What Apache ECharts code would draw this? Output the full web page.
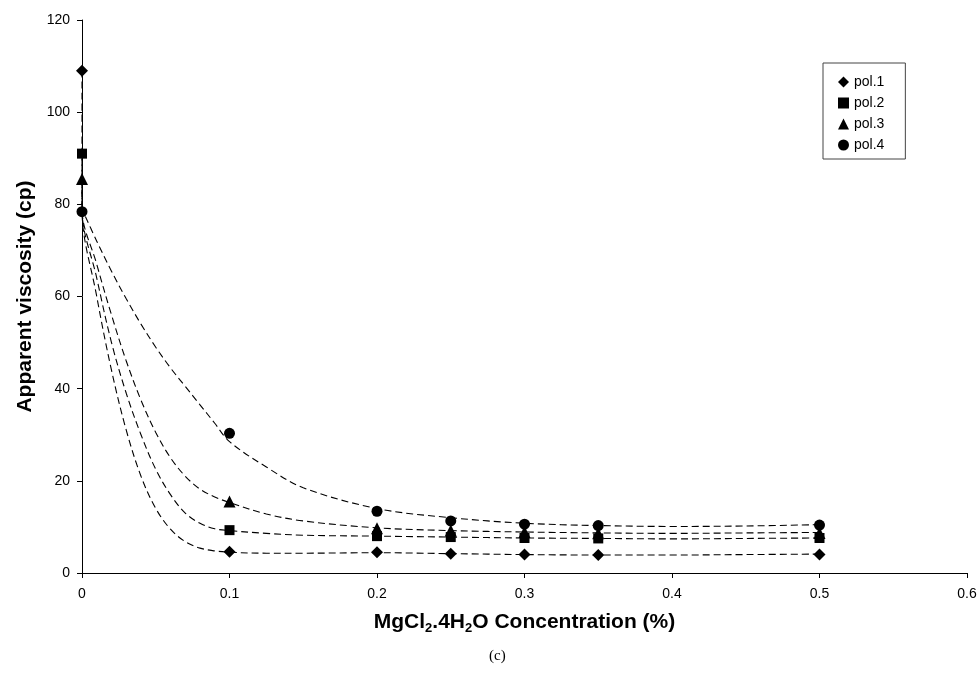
<!DOCTYPE html>
<html>
<head>
<meta charset="utf-8">
<script src="https://cdn.jsdelivr.net/npm/echarts@6/dist/echarts.min.js"></script>
<style>
    html, body { margin: 0; padding: 0; background: #fff; }
    #chart { width: 980px; height: 683px; }
</style>
</head>
<body>
<div id="chart"></div>
<script>
// 浓度（%）
const concentration = [0, 0.1, 0.2, 0.25, 0.3, 0.35, 0.5];
// 表观黏度（cp）
const pol1 = [109, 4.6, 4.5, 4.2, 4.0, 3.9, 4.0];
const pol2 = [91, 9.3, 8.0, 7.8, 7.6, 7.5, 7.6];
const pol3 = [85.5, 15.5, 9.7, 9.2, 8.9, 8.6, 8.7];
const pol4 = [78.4, 30.3, 13.4, 11.3, 10.6, 10.3, 10.4];

// 趋势线
const trendX = [0, 0.01, 0.02, 0.03, 0.04, 0.05, 0.06, 0.07, 0.08, 0.09, 0.1, 0.125, 0.15, 0.2, 0.25, 0.3, 0.35, 0.4, 0.45, 0.5];
const trend1 = [79, 60, 44, 31, 21, 14, 9.5, 6.8, 5.4, 4.8, 4.5, 4.3, 4.3, 4.4, 4.2, 4.0, 3.9, 3.9, 4.0, 4.1];
const trend2 = [79, 64, 50, 39, 30, 22.5, 17, 13, 10.8, 9.6, 9.2, 8.6, 8.2, 8.0, 7.8, 7.6, 7.5, 7.4, 7.5, 7.6];
const trend3 = [79, 67, 56, 46, 37.5, 30.5, 25, 21, 18.2, 16.5, 15.3, 12.8, 11.3, 9.8, 9.2, 8.9, 8.7, 8.6, 8.7, 8.8];
const trend4 = [79, 72, 65.5, 59.5, 54, 49, 44.5, 40.5, 36.5, 32.5, 28.5, 23, 18.5, 14, 12, 10.8, 10.3, 10.1, 10.2, 10.5];

const seriesNames = ['pol.1', 'pol.2', 'pol.3', 'pol.4'];
const symbols = ['diamond', 'rect', 'triangle', 'circle'];
const symbolSizes = [12, 10, 12, 11];

function pairs(xs, ys) {
    let out = [];
    for (let i = 0; i < xs.length; i++) {
        out.push([xs[i], ys[i]]);
    }
    return out;
}

let dataList = [pol1, pol2, pol3, pol4];
let trendList = [trend1, trend2, trend3, trend4];
let series = [];

//趋势线
for (let i = 0; i < trendList.length; i++) {
    // 先从x=0处的点竖直连到起点
    let pts = [[0, dataList[i][0]]].concat(pairs(trendX, trendList[i]));
    series.push({
        name: 'trend' + (i + 1),
        type: 'line',
        data: pts,
        smooth: 0.35,
        symbol: 'none',
        silent: true,
        z: 1,
        lineStyle: {color: '#000', width: 1.1, type: [7, 4]}
    });
}

//数据点
for (let i = 0; i < dataList.length; i++) {
    series.push({
        name: seriesNames[i],
        type: 'scatter',
        data: pairs(concentration, dataList[i]),
        symbol: symbols[i],
        symbolSize: symbolSizes[i],
        itemStyle: {color: '#000', opacity: 1},
        z: 3
    });
}

const font = 'Liberation Sans, Arial, sans-serif';

let option = {
    animation: false,
    backgroundColor: '#fff',
    textStyle: {fontFamily: font, color: '#000'},
    grid: {left: 82, right: 13, top: 20, bottom: 110, containLabel: false},
    legend: {
        data: seriesNames.map(function (n, i) {
            return {name: n, icon: symbols[i], itemStyle: {color: '#000', opacity: 1}};
        }),
        orient: 'vertical',
        left: 823,
        top: 63,
        itemWidth: 11,
        itemHeight: 11,
        itemGap: 7,
        padding: [12, 21, 7, 15],
        borderColor: '#444',
        borderWidth: 1,
        textStyle: {fontSize: 14, color: '#000', fontFamily: font}
    },
    xAxis: {
        type: 'value',
        min: 0,
        max: 0.6,
        interval: 0.1,
        splitLine: {show: false},
        axisLine: {onZero: false, lineStyle: {color: '#000', width: 1}},
        axisTick: {show: true, length: 5, lineStyle: {color: '#000'}},
        axisLabel: {color: '#000', fontSize: 14, margin: 14, fontFamily: font},
        name: '{b|MgCl}{s|2}{b|.4H}{s|2}{b|O Concentration (%)}',
        nameLocation: 'middle',
        nameGap: 36,
        nameTextStyle: {
            rich: {
                b: {fontSize: 21, fontWeight: 'bold', color: '#000', fontFamily: font, lineHeight: 26, verticalAlign: 'middle'},
                s: {fontSize: 13, fontWeight: 'bold', color: '#000', fontFamily: font, lineHeight: 26, verticalAlign: 'bottom'}
            }
        }
    },
    yAxis: {
        type: 'value',
        min: 0,
        max: 120,
        interval: 20,
        splitLine: {show: false},
        axisLine: {show: true, lineStyle: {color: '#000', width: 1}},
        axisTick: {show: true, length: 5, lineStyle: {color: '#000'}},
        axisLabel: {color: '#000', fontSize: 14, margin: 12, fontFamily: font},
        name: 'Apparent viscosity (cp)',
        nameLocation: 'middle',
        nameGap: 44,
        nameTextStyle: {fontSize: 21, fontWeight: 'bold', color: '#000', fontFamily: font}
    },
    graphic: [{
        type: 'text',
        left: 489,
        top: 649,
        style: {text: '(c)', fontSize: 15, fontFamily: 'Liberation Serif, Times New Roman, serif', fill: '#000'}
    }],
    series: series
};

let myChart = echarts.init(document.getElementById('chart'));
myChart.setOption(option);
</script>
</body>
</html>
